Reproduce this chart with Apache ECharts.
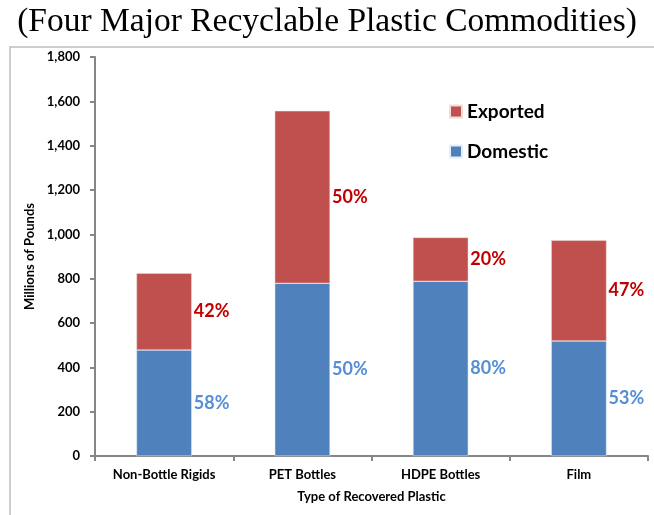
<!DOCTYPE html>
<html><head><meta charset="utf-8">
<script src="https://cdn.jsdelivr.net/npm/echarts@6/dist/echarts.min.js"></script>
<style>html,body{margin:0;padding:0;background:#fff}#c{width:654px;height:515px}</style>
</head><body><div id="c"></div>
<script>
const categories = ['Non-Bottle Rigids', 'PET Bottles', 'HDPE Bottles', 'Film'];
const domestic = [478, 779, 788, 519];
const exported = [347, 778, 198, 454];
const domesticPct = ['58%', '50%', '80%', '53%'];
const exportedPct = ['42%', '50%', '20%', '47%'];
const yTicks = [0, 200, 400, 600, 800, 1000, 1200, 1400, 1600, 1800];

const font = 'Lato, "Open Sans", sans-serif';
const chart = echarts.init(document.getElementById('c'), null, {renderer: 'canvas'});
chart.setOption({
  animation: false,
  backgroundColor: '#fff',
  title: {
    text: '(Four Major Recyclable Plastic Commodities)',
    left: 'center', top: 0,
    textStyle: {fontFamily: '"Liberation Serif", "Times New Roman", serif', fontWeight: 'normal', fontSize: 33.5, color: '#000'}
  },
  graphic: [
    {type: 'polyline', shape: {points: [[10, 530], [10, 47], [660, 47]]}, style: {stroke: '#bfbfbf', lineWidth: 1.5, fill: null}, silent: true}
  ],
  legend: {
    data: ['Exported', 'Domestic'],
    orient: 'vertical', left: 444, top: 97, itemGap: 21,
    itemWidth: 12, itemHeight: 12, icon: 'rect',
    textStyle: {fontFamily: font, fontWeight: 'bold', fontSize: 19, color: '#000'}
  },
  grid: {left: 95, right: 6, top: 57, bottom: 59, containLabel: false},
  xAxis: {
    type: 'category', data: categories,
    name: 'Type of Recovered Plastic', nameLocation: 'middle', nameGap: 34,
    nameTextStyle: {fontFamily: font, fontWeight: 'bold', fontSize: 13, color: '#000'},
    axisLine: {lineStyle: {color: '#868686', width: 2}},
    axisTick: {show: true, alignWithLabel: false, length: 5, lineStyle: {color: '#868686', width: 2}},
    axisLabel: {fontFamily: font, fontWeight: 'bold', fontSize: 13, color: '#000', margin: 12}
  },
  yAxis: {
    type: 'value', min: yTicks[0], max: yTicks[yTicks.length - 1], interval: 200,
    name: 'Millions of Pounds', nameLocation: 'middle', nameGap: 50, nameRotate: 90,
    nameTextStyle: {fontFamily: font, fontWeight: 'bold', fontSize: 13, color: '#000'},
    axisLine: {show: true, lineStyle: {color: '#868686', width: 2}},
    axisTick: {show: true, inside: false, length: 5, lineStyle: {color: '#868686', width: 2}},
    splitLine: {show: false},
    axisLabel: {fontFamily: font, fontWeight: 'bold', fontSize: 13, color: '#000', margin: 15,
      formatter: v => v.toLocaleString('en-US')}
  },
  series: [
    {
      name: 'Domestic', type: 'bar', stack: 'total', barCategoryGap: '60%',
      data: domestic,
      itemStyle: {color: '#4F81BD', borderColor: '#e8eef6', borderWidth: 0.5},
      label: {show: true, position: 'right', distance: 2, formatter: p => domesticPct[p.dataIndex],
        fontFamily: font, fontWeight: 'bold', fontSize: 18, color: '#558ED5'}
    },
    {
      name: 'Exported', type: 'bar', stack: 'total',
      data: exported,
      itemStyle: {color: '#C0504D', borderColor: '#f2dcdb', borderWidth: 0.5},
      label: {show: true, position: 'right', distance: 2, formatter: p => exportedPct[p.dataIndex],
        fontFamily: font, fontWeight: 'bold', fontSize: 18, color: '#C00000'}
    }
  ]
});
</script></body></html>
